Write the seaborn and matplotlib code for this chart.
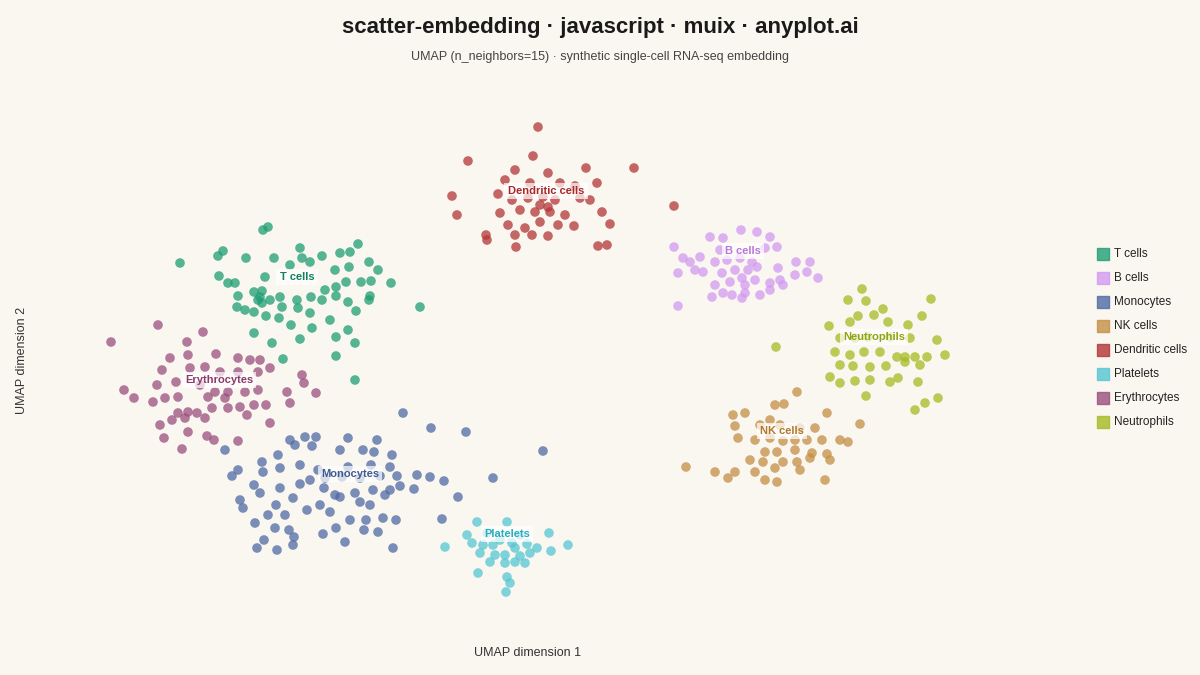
import matplotlib
matplotlib.use("Agg")
import matplotlib.pyplot as plt
import seaborn as sns
import pandas as pd

t_cells = [(268,227),(263,230),(223,251),(180,263),(218,256),(246,258),(274,258),(300,248),(302,258),(322,256),(340,253),(358,244),(350,252),(369,262),(378,270),(349,267),(335,270),(310,262),(290,265),(265,277),(228,283),(219,276),(235,283),(254,292),(262,291),(270,300),(280,297),(297,300),(311,297),(325,290),(336,287),(346,282),(361,282),(371,281),(391,283),(370,296),(369,300),(356,311),(348,302),(336,296),(322,300),(310,313),(298,308),(282,307),(266,316),(254,312),(237,307),(245,310),(258,300),(279,318),(291,325),(300,339),(312,328),(330,320),(348,330),(336,337),(355,343),(272,343),(254,333),(283,359),(336,356),(355,380),(420,307),(260,297),(262,303),(238,296)]
b_cells = [(757,232),(741,230),(723,238),(710,237),(770,237),(765,248),(777,247),(720,250),(700,257),(683,258),(674,247),(690,262),(715,262),(727,260),(740,258),(752,262),(757,267),(778,268),(796,262),(810,262),(807,272),(818,278),(795,275),(780,280),(770,283),(755,280),(742,278),(730,282),(715,285),(703,272),(695,270),(678,273),(722,273),(735,270),(748,270),(760,295),(745,293),(742,298),(732,295),(723,293),(712,297),(770,290),(783,285),(678,306),(745,285)]
monocytes = [(403,413),(431,428),(466,432),(290,440),(305,437),(316,437),(348,438),(377,440),(225,450),(295,445),(312,446),(340,450),(363,450),(374,452),(392,455),(543,451),(278,455),(262,462),(280,468),(300,465),(318,470),(348,467),(371,465),(390,467),(238,470),(232,476),(263,472),(310,480),(325,478),(342,477),(360,478),(380,476),(397,476),(417,475),(430,477),(444,481),(493,478),(254,485),(280,488),(300,484),(324,488),(335,495),(355,493),(373,490),(390,490),(400,486),(414,489),(458,497),(240,500),(260,493),(276,505),(293,498),(320,505),(340,497),(360,502),(370,505),(385,495),(243,508),(268,515),(285,515),(307,510),(330,512),(350,520),(366,520),(383,518),(396,520),(442,519),(255,523),(275,528),(289,530),(323,534),(336,528),(364,530),(378,532),(264,540),(293,545),(345,542),(257,548),(277,550),(294,537),(393,548)]
nk_cells = [(797,392),(775,405),(784,404),(733,415),(745,413),(770,420),(827,413),(735,426),(760,425),(780,425),(800,428),(815,428),(860,424),(738,438),(755,440),(770,438),(783,441),(795,440),(807,440),(822,440),(848,442),(840,440),(765,452),(777,452),(795,450),(812,453),(827,454),(750,460),(763,462),(783,462),(797,462),(810,458),(686,467),(715,472),(735,472),(755,472),(775,468),(800,470),(728,478),(765,480),(777,482),(825,480),(830,460)]
dendritic = [(538,127),(468,161),(533,156),(515,170),(548,173),(586,168),(634,168),(505,180),(530,183),(560,183),(575,186),(597,183),(452,196),(498,194),(512,200),(528,198),(543,197),(555,200),(580,198),(590,200),(674,206),(457,215),(500,213),(520,210),(535,212),(550,212),(565,215),(602,212),(508,225),(525,228),(540,222),(558,225),(574,226),(610,224),(486,235),(515,235),(532,235),(548,236),(598,246),(607,245),(516,247),(487,240),(540,205),(548,207)]
platelets = [(477,522),(507,522),(467,535),(487,533),(500,540),(520,535),(549,533),(445,547),(472,543),(483,545),(493,545),(512,543),(527,544),(537,548),(551,551),(568,545),(480,553),(495,555),(505,555),(520,556),(530,553),(490,562),(505,563),(515,562),(525,563),(478,573),(507,577),(510,583),(506,592),(515,548)]
erythrocytes = [(158,325),(203,332),(111,342),(187,342),(170,358),(188,355),(216,354),(238,358),(250,360),(260,360),(270,368),(162,370),(190,368),(205,367),(220,372),(238,372),(258,372),(302,375),(157,385),(176,382),(200,385),(215,392),(228,392),(245,392),(258,390),(287,392),(316,393),(124,390),(134,398),(153,402),(165,398),(178,397),(208,397),(225,398),(240,407),(254,405),(266,405),(228,408),(212,408),(188,412),(178,413),(197,413),(160,425),(172,420),(185,418),(205,418),(247,415),(270,423),(164,438),(188,432),(207,436),(214,440),(238,441),(182,449),(304,383),(290,403)]
neutrophils = [(862,289),(848,300),(866,301),(931,299),(883,309),(858,316),(874,315),(829,326),(850,322),(888,322),(908,325),(922,316),(840,338),(855,338),(868,337),(890,337),(910,338),(937,340),(776,347),(835,352),(850,355),(864,352),(880,352),(897,357),(905,357),(915,357),(927,357),(945,355),(840,365),(853,366),(870,367),(886,366),(905,362),(920,365),(830,377),(840,383),(855,381),(870,380),(890,382),(898,378),(918,382),(866,396),(915,410),(925,403),(938,398)]

cell_types = ["T cells","B cells","Monocytes","NK cells","Dendritic cells","Platelets","Erythrocytes","Neutrophils"]
cluster_points = [t_cells,b_cells,monocytes,nk_cells,dendritic,platelets,erythrocytes,neutrophils]
colors = ["#1f9e74","#d29af0","#4f6aa3","#c48f45","#b23636","#55c6d2","#9a4f7e","#a3bb22"]
label_colors = ["#11825c","#b877dc","#3f5a92","#b07a2a","#a82828","#27aebd","#8a3a6c","#8ea510"]
label_pos = [(297,277),(743,251),(350,474),(782,431),(546,191),(507,534),(219,380),(874,337)]

rows = []
for name, pts in zip(cell_types, cluster_points):
    for x, y in pts:
        rows.append({"UMAP 1": x, "UMAP 2": y, "Cell type": name})
df = pd.DataFrame(rows)

bg = "#faf7f0"
sns.set_theme(style="white")
plt.rcParams['font.family'] = ['Liberation Sans', 'DejaVu Sans']
fig = plt.figure(figsize=(12, 6.75), dpi=100, facecolor=bg)
ax = fig.add_axes([0, 0, 1, 1])
ax.set_facecolor(bg)
sns.scatterplot(data=df, x="UMAP 1", y="UMAP 2", hue="Cell type", hue_order=cell_types,
                palette=colors, s=48, alpha=0.75, edgecolor="none", legend=False, ax=ax)
ax.set_xlim(0, 1200)
ax.set_ylim(675, 0)
ax.axis("off")

for name, (lx, ly), c in zip(cell_types, label_pos, label_colors):
    ax.text(lx, ly, name, ha="center", va="center", fontsize=8, fontweight="bold", color=c,
            bbox=dict(boxstyle="square,pad=0.3", fc="white", ec="none", alpha=0.7))

for i, (name, c) in enumerate(zip(cell_types, colors)):
    y = 254 + i * 24
    ax.scatter([1103], [y], marker="s", s=70, color=c, alpha=0.8)
    ax.text(1114, y, name, va="center", ha="left", fontsize=8.5, color="#222222")

fig.text(0.5, 0.96, "scatter-embedding · javascript · muix · anyplot.ai", ha="center", va="center",
         fontsize=16, fontweight="bold", color="#1a1a1a")
fig.text(0.5, 0.915, "UMAP (n_neighbors=15) · synthetic single-cell RNA-seq embedding", ha="center",
         va="center", fontsize=9, color="#444444")
fig.text(528/1200, 1-653/675, "UMAP dimension 1", ha="center", va="center", fontsize=9, color="#333333")
fig.text(22/1200, 1-360/675, "UMAP dimension 2", ha="center", va="center", fontsize=9, color="#333333", rotation=90)

fig.savefig("out.png", dpi=100, facecolor=bg)
